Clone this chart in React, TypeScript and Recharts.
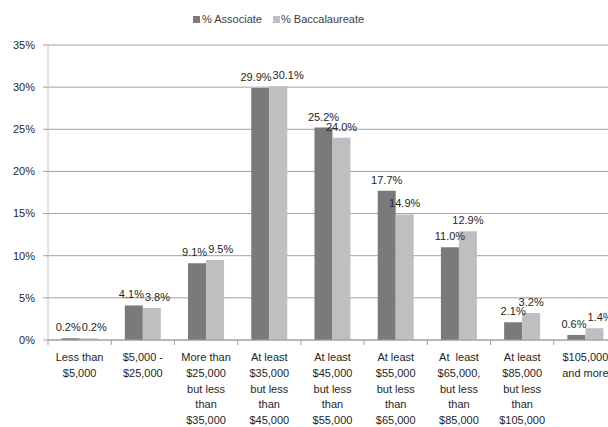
import React from 'react';
import { BarChart, Bar, XAxis, YAxis, CartesianGrid } from 'recharts';

const categories = [
  'Less than\n$5,000',
  '$5,000 -\n$25,000',
  'More than\n$25,000\nbut less\nthan\n$35,000',
  'At least\n$35,000\nbut less\nthan\n$45,000',
  'At least\n$45,000\nbut less\nthan\n$55,000',
  'At least\n$55,000\nbut less\nthan\n$65,000',
  'At  least\n$65,000,\nbut less\nthan\n$85,000',
  'At least\n$85,000\nbut less\nthan\n$105,000',
  '$105,000\nand more',
];
const associate = [0.2, 4.1, 9.1, 29.9, 25.2, 17.7, 11.0, 2.1, 0.6];
const baccalaureate = [0.2, 3.8, 9.5, 30.1, 24.0, 14.9, 12.9, 3.2, 1.4];
const yTicks = [0, 5, 10, 15, 20, 25, 30, 35];
const seriesNames = ['% Associate', '% Baccalaureate'];

const data = categories.map((c, i) => ({ name: c, associate: associate[i], baccalaureate: baccalaureate[i] }));

const FONT = "'Liberation Sans', Arial, sans-serif";
const FS = 11;
const DARK = '#7a7a7c';
const LIGHT = '#bfbfc1';
const TEXT = '#262626';
const GRID = '#a0a0a0';

const CHART_W = 630;
const CHART_H = 419;
const MARGIN = { top: 37, right: 21, bottom: 7, left: 0 };
const X_H = 80;
const Y_W = 40;
const Y_MAX = 35;
const STEP = (CHART_W - MARGIN.left - MARGIN.right - Y_W) / categories.length;
const PX_PER_UNIT = (CHART_H - MARGIN.top - MARGIN.bottom - X_H) / Y_MAX;

const fmt = (v: any) => `${Number(v).toFixed(1)}%`;
const textWidth = (s: string) =>
  s.split('').reduce((w, ch) => w + (ch === '.' ? 0.278 : ch === '%' ? 0.889 : 0.556) * FS, 0);

const XTick = (props: any) => {
  const { x, y, payload } = props;
  const lines = String(payload.value).split('\n');
  return (
    <g>
      <line x1={x - STEP / 2} x2={x - STEP / 2} y1={y} y2={y + 5} stroke={GRID} />
      <text x={x} y={y} textAnchor="middle" fontFamily={FONT} fontSize={FS} fill={TEXT} style={{ whiteSpace: 'pre' }}>
        {lines.map((l, i) => (
          <tspan key={i} x={x} y={y + 21 + i * 15.8}>{l}</tspan>
        ))}
      </text>
    </g>
  );
};

const makeLabel = (series: number) => (props: any) => {
  const { x, y, width, index } = props;
  const own = series === 0 ? associate[index] : baccalaureate[index];
  const other = series === 0 ? baccalaureate[index] : associate[index];
  const s = fmt(own);
  const so = fmt(other);
  let dx = 0;
  const vDiff = Math.abs(own - other) * PX_PER_UNIT;
  if (vDiff < 8) {
    const need = (textWidth(s) + textWidth(so)) / 2 + 1;
    const o = need - width;
    if (o > 0) dx = series === 0 ? -o * 0.3 : o * 0.7;
  }
  return (
    <text x={x + width / 2 + dx} y={y - 7} textAnchor="middle" fontFamily={FONT} fontSize={FS} fill={TEXT}>
      {s}
    </text>
  );
};

export default function App() {
  return (
    <div style={{ position: 'fixed', left: 0, top: 0, width: 608, height: 427, overflow: 'hidden', background: '#fff' }}>
      <div style={{ position: 'absolute', left: 8, top: 8, width: CHART_W, height: CHART_H }}>
        <div style={{ position: 'absolute', top: 0, left: 0, width: 600, height: 30, fontFamily: FONT, fontSize: FS, color: '#404040' }}>
          <div style={{ position: 'absolute', left: 185, top: 8, width: 7, height: 7, background: DARK }} />
          <div style={{ position: 'absolute', left: 194, top: 4, lineHeight: '14px', whiteSpace: 'nowrap' }}>{seriesNames[0]}</div>
          <div style={{ position: 'absolute', left: 265, top: 8, width: 7, height: 7, background: LIGHT }} />
          <div style={{ position: 'absolute', left: 273, top: 4, lineHeight: '14px', whiteSpace: 'nowrap' }}>{seriesNames[1]}</div>
        </div>
        <BarChart width={CHART_W} height={CHART_H} data={data} margin={MARGIN} barCategoryGap="21.5%" barGap={0}>
          <CartesianGrid horizontal vertical={false} stroke={GRID} />
          <XAxis
            dataKey="name"
            interval={0}
            height={X_H}
            tickLine={false}
            tickSize={0}
            tickMargin={0}
            axisLine={{ stroke: GRID }}
            tick={<XTick />}
          />
          <YAxis
            width={Y_W}
            domain={[0, Y_MAX]}
            ticks={yTicks}
            tickFormatter={(v: number) => `${v}%`}
            axisLine={{ stroke: '#c4c4c4' }}
            tickLine={{ stroke: GRID }}
            tickSize={5}
            tickMargin={8}
            tick={{ fontFamily: FONT, fontSize: FS, fill: TEXT }}
            interval={0}
          />
          <Bar dataKey="associate" name={seriesNames[0]} fill={DARK} isAnimationActive={false} label={makeLabel(0)} />
          <Bar dataKey="baccalaureate" name={seriesNames[1]} fill={LIGHT} isAnimationActive={false} label={makeLabel(1)} />
        </BarChart>
      </div>
    </div>
  );
}
